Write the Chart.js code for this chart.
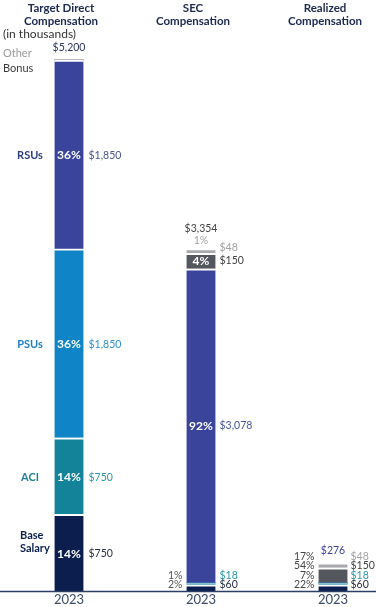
<!DOCTYPE html>
<html>
<head>
<meta charset="utf-8">
<script src="https://cdn.jsdelivr.net/npm/chart.js@4"></script>
<style>
  html, body { margin: 0; padding: 0; background: #fff; }
  #wrap { position: relative; width: 376px; height: 607px; }
</style>
</head>
<body>
<div id="wrap"><canvas id="myChart" width="376" height="607"></canvas></div>
<script>
// data (in thousands)
var headers = [['Target Direct', 'Compensation'], ['SEC', 'Compensation'], ['Realized', 'Compensation']];
var yearLabels = ['2023', '2023', '2023'];
var seriesNames = ['Base\nSalary', 'ACI', 'PSUs', 'RSUs', 'Bonus', 'Other'];
var baseSalary = [750, 60, 60];
var aci = [750, 18, 18];
var psus = [1850, 0, 0];
var rsus = [1850, 3078, 0];
var bonus = [0, 150, 150];
var other = [0, 48, 48];

var series = [baseSalary, aci, psus, rsus, bonus, other];
var barColors = ['#0b1e4e', '#138399', '#0f84c6', '#3a449b', '#54575e', '#a8a9ac'];
var nameColors = ['#0b1e4e', '#1f8196', '#1c82c4', '#2e3f7f', '#3a3a3a', '#9a9a9a'];
var valueColors = ['#2a2f45', '#2c96ac', '#2e8fcf', '#4a5593', '#3f3f3f', '#a3a3a3'];

var FONT = 'Lato, "Noto Sans", sans-serif';

function money(v) {
    return '$' + v.toLocaleString('en-US');
}
function total(j) {
    var s = 0;
    series.forEach(function (arr) { s += arr[j]; });
    return s;
}
function pct(i, j) {
    return Math.round(series[i][j] / total(j) * 100) + '%';
}

var labelsPlugin = {
    id: 'compLabels',
    afterDatasetsDraw: function (chart) {
        var ctx = chart.ctx;
        var base = chart.scales.y.getPixelForValue(0);
        ctx.save();

        // baseline across full width
        ctx.strokeStyle = '#2e3f66';
        ctx.lineWidth = 1.5;
        ctx.beginPath();
        ctx.moveTo(0, base + 0.5);
        ctx.lineTo(chart.width, base + 0.5);
        ctx.stroke();

        ctx.textBaseline = 'middle';

        function bar(i, j) { return chart.getDatasetMeta(i).data[j]; }
        function text(str, x, y, color, font, align) {
            ctx.font = font;
            ctx.fillStyle = color;
            ctx.textAlign = align || 'center';
            ctx.fillText(str, x, y);
        }
        var small = '10.5px ' + FONT;
        var bold = 'bold 12px ' + FONT;
        var head = 'bold 11.5px ' + FONT;
        var boldName = 'bold 11px ' + FONT;

        // headers
        for (var j = 0; j < 3; j++) {
            var b = bar(0, j);
            text(headers[j][0], b.x - 8, 8, '#1b2850', head);
            text(headers[j][1], b.x - 8, 21, '#1b2850', head);
        }
        text('(in thousands)', 3, 34, '#333', '12px ' + FONT, 'left');

        // column 1 : target direct
        var topBar = bar(3, 0);
        var right = topBar.x + topBar.width / 2 + 5;
        for (var i = 0; i < 4; i++) {
            var bb = bar(i, 0);
            var cy = (bb.y + bb.base) / 2;
            text(pct(i, 0), bb.x, cy + 1, '#fff', bold);
            text(money(series[i][0]), right, cy + 1, valueColors[i], small, 'left');
            var lines = seriesNames[i].split('\n');
            if (lines.length > 1) {
                text(lines[0], 20, cy - 17, nameColors[i], boldName, 'left');
                text(lines[1], 20, cy - 4, nameColors[i], boldName, 'left');
            } else {
                text(lines[0], 30, cy + 1, nameColors[i], boldName);
            }
        }
        text(money(total(0)), topBar.x, topBar.y - 12, '#2d3561', small);
        text(seriesNames[5], 3, topBar.y - 7, nameColors[5], '11px ' + FONT, 'left');
        text(seriesNames[4], 3, topBar.y + 8, nameColors[4], '11px ' + FONT, 'left');

        // column 2 : SEC
        var o2 = bar(5, 1), g2 = bar(4, 1), r2 = bar(3, 1);
        right = o2.x + o2.width / 2 + 4;
        var left = o2.x - o2.width / 2 - 4;
        text(money(total(1)), o2.x, o2.y - 20, '#444', small);
        text(pct(5, 1), o2.x, o2.y - 8, '#a3a3a3', small);
        text(money(other[1]), right, (o2.y + o2.base) / 2 - 3, valueColors[5], small, 'left');
        text(pct(4, 1), g2.x, (g2.y + g2.base) / 2, '#fff', bold);
        text(money(bonus[1]), right, (g2.y + g2.base) / 2, valueColors[4], small, 'left');
        text(pct(3, 1), r2.x, (r2.y + r2.base) / 2, '#fff', bold);
        text(money(rsus[1]), right, (r2.y + r2.base) / 2, '#4a55a0', small, 'left');
        text(money(aci[1]), right, base - 15, valueColors[1], small, 'left');
        text(money(baseSalary[1]), right, base - 6, valueColors[0], small, 'left');
        text(pct(1, 1), left, base - 15, '#555', small, 'right');
        text(pct(0, 1), left, base - 6, '#555', small, 'right');

        // column 3 : realized
        var o3 = bar(5, 2);
        right = o3.x + o3.width / 2 + 3;
        left = o3.x - o3.width / 2 - 4;
        text(money(total(2)), o3.x, o3.y - 12, '#3a449b', small);
        var order = [0, 1, 4, 5];
        var offs = [6, 15, 25, 34];
        order.forEach(function (i, k) {
            text(pct(i, 2), left, base - offs[k], '#444', small, 'right');
            text(money(series[i][2]), right, base - offs[k], valueColors[i], small, 'left');
        });

        ctx.restore();
    }
};

var ctx = document.getElementById('myChart').getContext('2d');

var myChart = new Chart(ctx, {
    type: 'bar',
    data: {
        labels: yearLabels,
        datasets: series.map(function (arr, i) {
            return {
                label: seriesNames[i],
                data: arr,
                backgroundColor: barColors[i],
                borderColor: '#ffffff',
                borderWidth: {top: 2, right: 0, bottom: 0, left: 0},
                borderSkipped: false,
                barThickness: 29,
                clip: false
            };
        })
    },
    options: {
        responsive: false,
        animation: false,
        layout: {
            padding: {top: 60, left: 69, right: 43, bottom: 0}
        },
        plugins: {
            legend: {display: false},
            tooltip: {enabled: false}
        },
        scales: {
            x: {
                stacked: true,
                offset: false,
                grid: {display: false, drawTicks: false},
                border: {display: false},
                ticks: {
                    color: '#3a4a6b',
                    font: {family: FONT, size: 13},
                    padding: 1,
                    maxRotation: 0
                },
                afterFit: function (scale) { scale.height = 16; }
            },
            y: {
                stacked: true,
                display: false,
                min: 0,
                max: 5200
            }
        }
    },
    plugins: [labelsPlugin]
});
</script>
</body>
</html>
